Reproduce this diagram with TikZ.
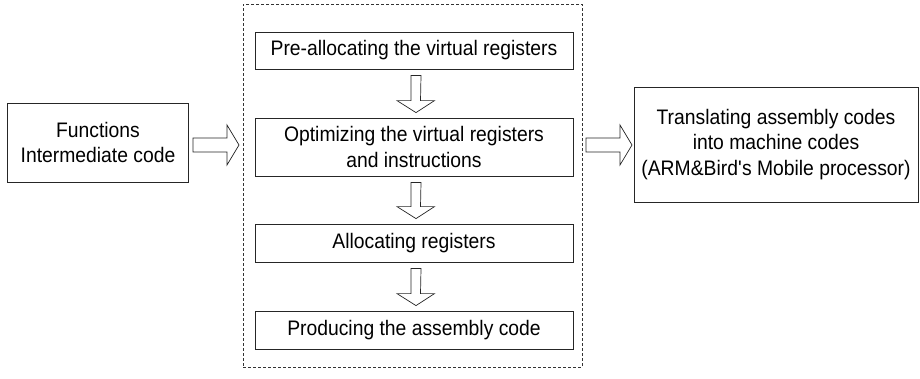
\documentclass[tikz,border=0pt]{standalone}
\usepackage{fontspec}
\setmainfont{Liberation Sans}[FakeStretch=0.92]
\usetikzlibrary{calc}
\begin{document}
\begin{tikzpicture}[x=1pt,y=-1pt,
  box/.style={draw=black!85,line width=0.8pt,align=center,inner sep=0pt,
    font=\fontsize{21}{25.5}\selectfont},
  group/.style={draw=black!80,line width=0.7pt,dash pattern=on 3pt off 2pt},
  hollow/.style={draw=black!85,line width=0.7pt,fill=white,line join=miter}]
\useasboundingbox (0,0) rectangle (920,378);

% outer processing group
\node[group,minimum width=339pt,minimum height=363pt] (grp) at (412.5,185.5) {};

% boxes
\node[box,minimum width=181pt,minimum height=79pt] (func) at (98,142.5)
  {Functions\\Intermediate code};
\node[box,minimum width=318pt,minimum height=37pt] (pre) at (414,50.5)
  {Pre-allocating the virtual registers};
\node[box,minimum width=318pt,minimum height=58pt] (opt) at (414,147)
  {Optimizing the virtual registers\\and instructions};
\node[box,minimum width=318pt,minimum height=38pt] (alloc) at (414,243)
  {Allocating registers};
\node[box,minimum width=318pt,minimum height=38pt] (prod) at (414,330)
  {Producing the assembly code};
\node[box,minimum width=284pt,minimum height=115pt] (trans) at (776,144.5)
  {Translating assembly codes\\into machine codes\\(ARM\&Bird\textquotesingle s Mobile processor)};

% hollow downward block arrows between the stages
\newcommand\downblock[2]{%
  \draw[hollow] ($(#1.south)+(-3,6)$) -- ($(#2.north)+(-3,-17)$)
    -- ++(-14,0) -- ($(#2.north)+(2,-5)$) -- ($(#2.north)+(20.5,-17)$)
    -- ++(-14,0) -- ($(#1.south)+(7,6)$) -- cycle;}
\downblock{pre}{opt}
\downblock{opt}{alloc}
\downblock{alloc}{prod}

% hollow rightward block arrows
\coordinate (in1) at (193,145);
\coordinate (in2) at (239,145);
\draw[hollow] ($(in1)+(0,-7)$) -- ($(in2)+(-12,-7)$) -- ($(in2)+(-12,-20)$)
  -- (in2) -- ($(in2)+(-12,20)$) -- ($(in2)+(-12,7)$) -- ($(in1)+(0,7)$) -- cycle;
\coordinate (out1) at (586,145);
\coordinate (out2) at (632,145);
\draw[hollow] ($(out1)+(0,-7)$) -- ($(out2)+(-12,-7)$) -- ($(out2)+(-12,-20)$)
  -- (out2) -- ($(out2)+(-12,20)$) -- ($(out2)+(-12,7)$) -- ($(out1)+(0,7)$) -- cycle;
\end{tikzpicture}
\end{document}
